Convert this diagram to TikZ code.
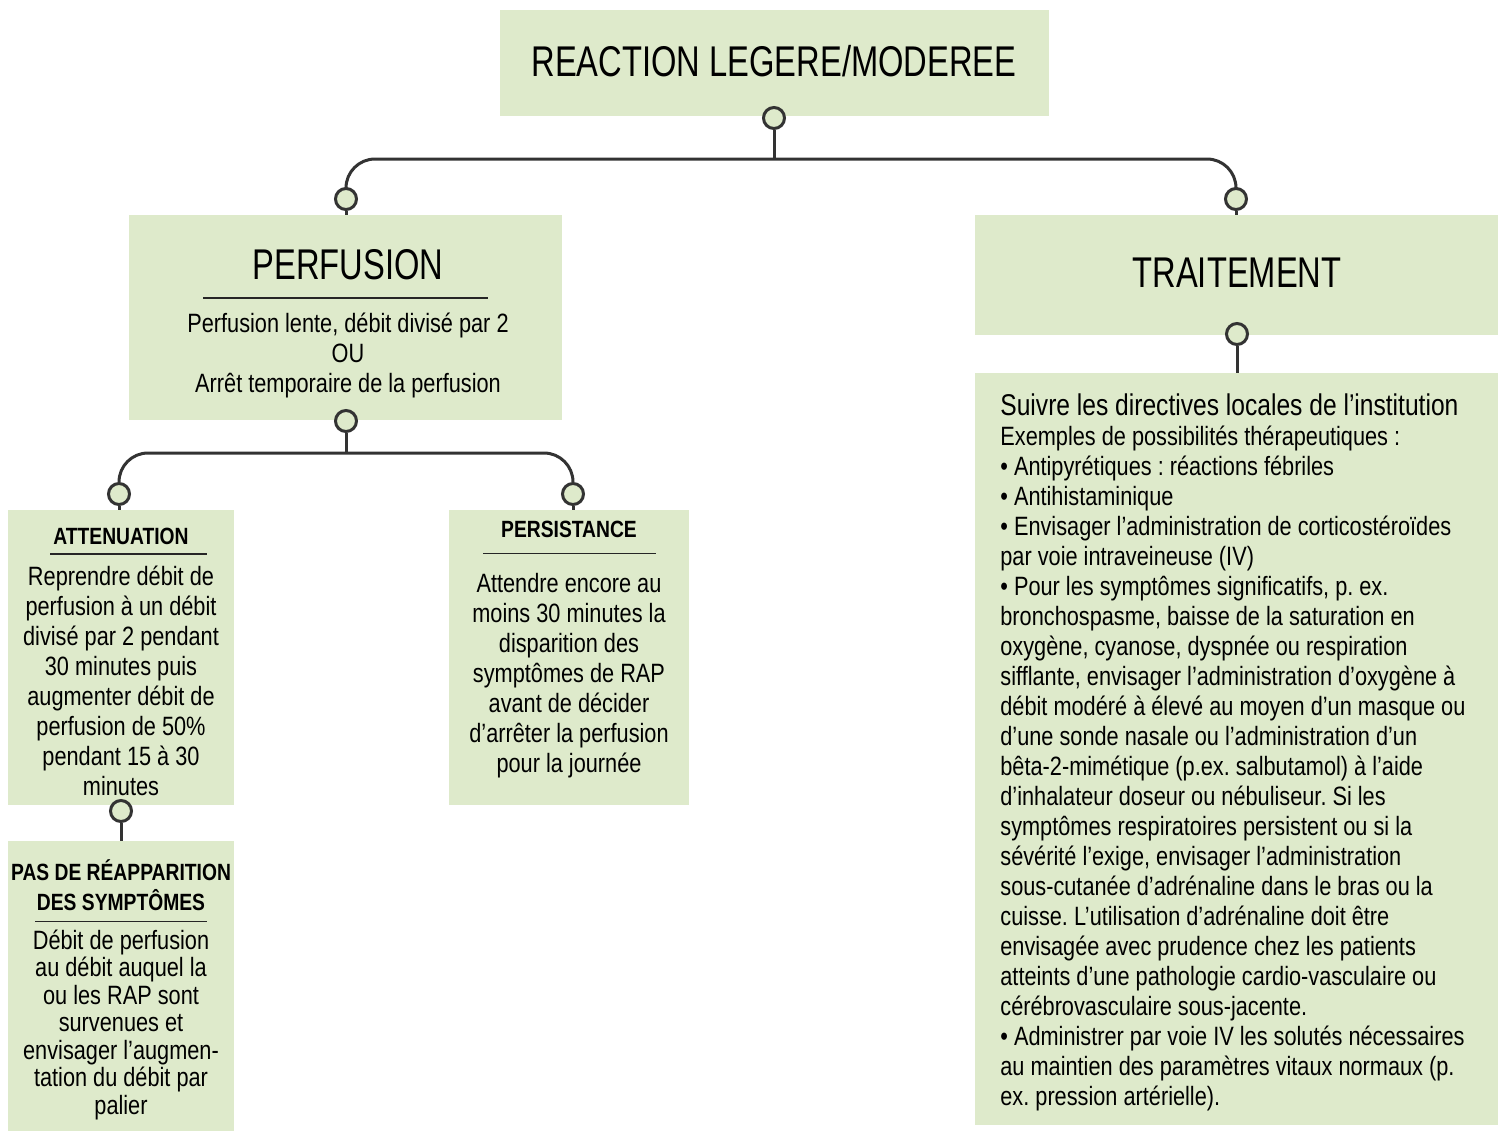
\documentclass[tikz,border=0pt]{standalone}
\usepackage{fontspec}
\setmainfont{Liberation Sans}[FakeStretch=0.82]
\newfontfamily\titlefont{Liberation Sans}[FakeStretch=0.76]
\usetikzlibrary{fit}
\definecolor{boxgreen}{RGB}{222,234,203}
\definecolor{linegray}{RGB}{51,51,51}
\tikzset{
  box/.style={fill=boxgreen, draw=none, inner sep=0pt},
  knob/.style={circle, draw=linegray, fill=boxgreen, line width=1.5pt, minimum size=10.5pt, inner sep=0pt},
  conn/.style={draw=linegray, line width=1.5pt},
  hrule/.style={draw=black!85, line width=0.75pt},
  bigtitle/.style={anchor=base, inner sep=0pt, font=\titlefont\fontsize{21.5pt}{25pt}\selectfont},
  subtitle/.style={anchor=base, inner sep=0pt, align=center, font=\bfseries\fontsize{11.75pt}{15pt}\selectfont},
  bodytext/.style={anchor=base, inner sep=0pt, align=center, font=\frenchspacing\fontsize{13.25pt}{15pt}\selectfont},
}
\begin{document}
\begin{tikzpicture}[x=0.5pt, y=-0.5pt]
\useasboundingbox (0,0) rectangle (1499,1131);
% boxes
\node[box, fit={(500,10) (1049,116)}] (top) {};
\node[box, fit={(129,215) (562,420)}] (perf) {};
\node[box, fit={(975,215) (1498,335)}] (trait) {};
\node[box, fit={(975,373) (1498,1125)}] (traitxt) {};
\node[box, fit={(8,510) (234,805)}] (att) {};
\node[box, fit={(449,510) (689,805)}] (pers) {};
\node[box, fit={(8,841) (234,1131)}] (pas) {};
% knobs
\node[knob] (c0) at (774,118) {};
\node[knob] (cL) at (346,199) {};
\node[knob] (cR) at (1236,199) {};
\node[knob] (cT) at (1237,334) {};
\node[knob] (p0) at (346,421) {};
\node[knob] (a0) at (119,494) {};
\node[knob] (s0) at (573,494) {};
\node[knob] (q0) at (121,811) {};
% connectors
\coordinate (bar) at (774,159);
\coordinate (bar2) at (346,453);
\draw[conn] (c0.south) -- (bar);
\draw[conn, rounded corners=14.5pt] (cL.north) |- (bar) -| (cR.north);
\draw[conn] (cL.south) -- (cL.south |- perf.north);
\draw[conn] (cR.south) -- (cR.south |- trait.north);
\draw[conn] (cT.south) -- (cT.south |- traitxt.north);
\draw[conn] (p0.south) -- (bar2);
\draw[conn, rounded corners=14.5pt] (a0.north) |- (bar2) -| (s0.north);
\draw[conn] (a0.south) -- (a0.south |- att.north);
\draw[conn] (s0.south) -- (s0.south |- pers.north);
\draw[conn] (q0.south) -- (q0.south |- pas.north);
% texts (multi-line nodes are placed by the baseline of their last line)
\node[bigtitle] (t0) at (774,76) {REACTION LEGERE/MODEREE};
\node[bigtitle] (tperf) at (348,279) {PERFUSION};
\draw[hrule] (203,298) -- (488,298);
\node[bodytext] (bperf) at (348,392) {Perfusion lente, débit divisé par 2\\OU\\Arrêt temporaire de la perfusion};
\node[bigtitle] (ttrait) at (1237,287) {TRAITEMENT};
\node[subtitle] (tatt) at (121,544) {ATTENUATION};
\draw[hrule] (50,554) -- (207,554);
\node[bodytext] (batt) at (121,795) {Reprendre débit de\\perfusion à un débit\\divisé par 2 pendant\\30 minutes puis\\augmenter débit de\\perfusion de 50\%\\pendant 15 à 30\\minutes};
\node[subtitle] (tpers) at (569,537) {PERSISTANCE};
\draw[hrule] (483,553.5) -- (656,553.5);
\node[bodytext] (bpers) at (569,772) {Attendre encore au\\moins 30 minutes la\\disparition des\\symptômes de RAP\\avant de décider\\d’arrêter la perfusion\\pour la journée};
\node[subtitle] (tpas) at (121,910) {PAS DE RÉAPPARITION\\DES SYMPTÔMES};
\draw[hrule] (35,921.5) -- (207,921.5);
\node[bodytext, font=\frenchspacing\fontsize{13.25pt}{13.75pt}\selectfont] (bpas) at (121,1114) {Débit de perfusion\\au débit auquel la\\ou les RAP sont\\survenues et\\envisager l’augmen-\\tation du débit par\\palier};
\node[anchor=base west, inner sep=0pt, font=\fontsize{15pt}{18pt}\selectfont] (ttxt) at (1000,415) {Suivre les directives locales de l’institution};
\node[bodytext, anchor=base west, align=left] (btxt) at (1000,1105.5) {Exemples de possibilités thérapeutiques :\\
• Antipyrétiques : réactions fébriles\\
• Antihistaminique\\
• Envisager l’administration de corticostéroïdes\\
par voie intraveineuse (IV)\\
• Pour les symptômes significatifs, p. ex.\\
bronchospasme, baisse de la saturation en\\
oxygène, cyanose, dyspnée ou respiration\\
sifflante, envisager l’administration d’oxygène à\\
débit modéré à élevé au moyen d’un masque ou\\
d’une sonde nasale ou l’administration d’un\\
bêta-2-mimétique (p.ex. salbutamol) à l’aide\\
d’inhalateur doseur ou nébuliseur. Si les\\
symptômes respiratoires persistent ou si la\\
sévérité l’exige, envisager l’administration\\
sous-cutanée d’adrénaline dans le bras ou la\\
cuisse. L’utilisation d’adrénaline doit être\\
envisagée avec prudence chez les patients\\
atteints d’une pathologie cardio-vasculaire ou\\
cérébrovasculaire sous-jacente.\\
• Administrer par voie IV les solutés nécessaires\\
au maintien des paramètres vitaux normaux (p.\\
ex. pression artérielle).};
\end{tikzpicture}
\end{document}
